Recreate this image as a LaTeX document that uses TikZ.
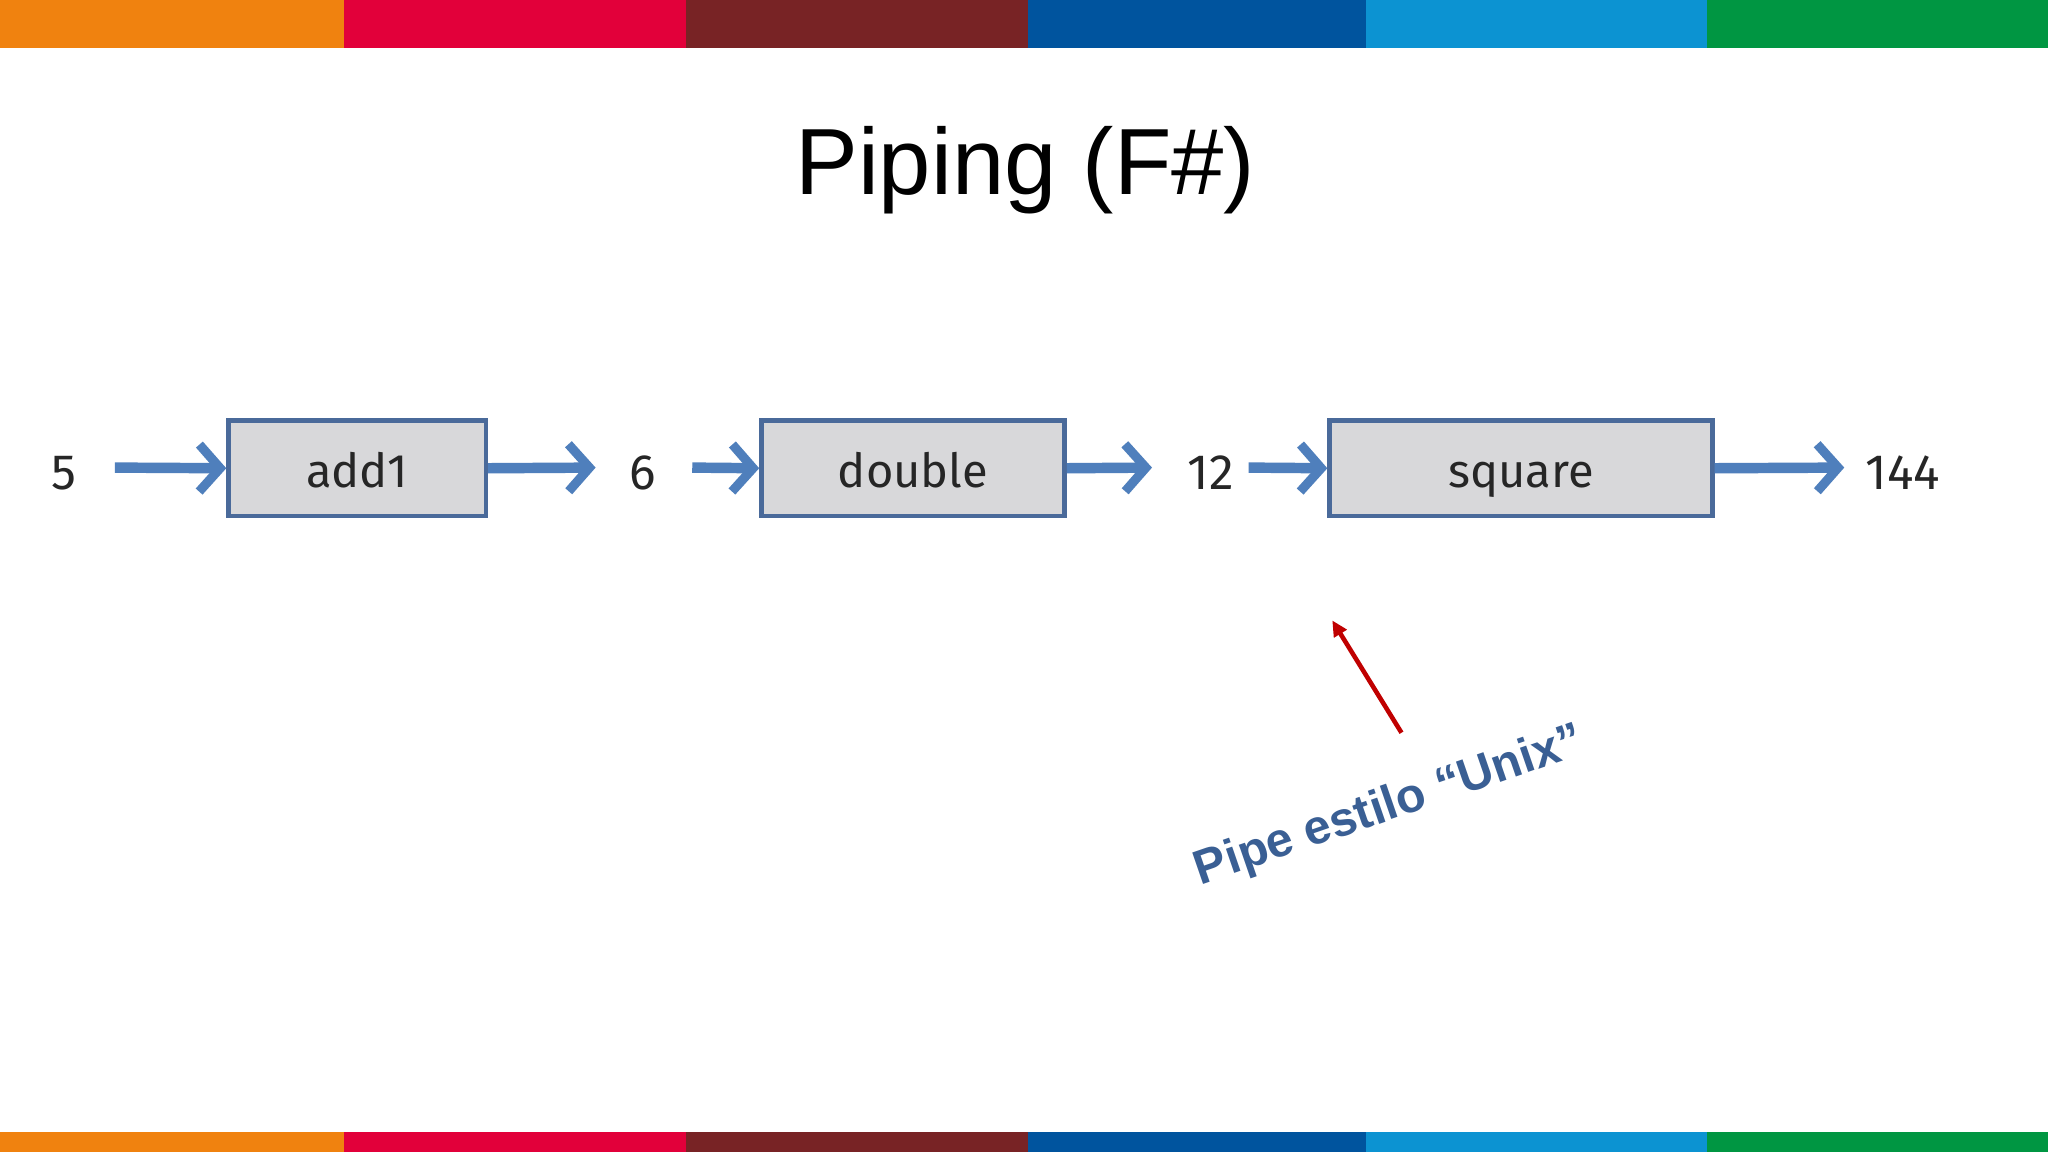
\documentclass[tikz,border=0pt]{standalone}
\usepackage{fontspec}
\setmainfont{Liberation Sans}
\newfontfamily\gill{Fira Sans}
\usetikzlibrary{arrows.meta}
\definecolor{c1}{HTML}{F0820F}
\definecolor{c2}{HTML}{E2003A}
\definecolor{c3}{HTML}{782325}
\definecolor{c4}{HTML}{00549E}
\definecolor{c5}{HTML}{0C93D2}
\definecolor{c6}{HTML}{009642}
\definecolor{pblue}{HTML}{4F7FBC}
\definecolor{bord}{HTML}{4A6A9A}
\definecolor{boxf}{HTML}{D8D8DA}
\definecolor{lab}{HTML}{3A5F94}
\definecolor{red2}{HTML}{C00000}
\tikzset{
 fbox/.style={draw=bord,line width=3.5pt,fill=boxf,minimum height=73pt,text height=30pt,text depth=0pt,font=\gill\fontsize{36}{40}\selectfont,text=black!85},
 val/.style={font=\gill\fontsize{38}{42}\selectfont,text=black!85},
 parr/.style={draw=pblue,line width=8pt,-{Straight Barb[length=16pt,width=36pt,line width=7pt]}}
}
\begin{document}
\begin{tikzpicture}[x=1pt,y=-1pt]
\useasboundingbox (0,0) rectangle (1568,882);
\fill[white] (0,0) rectangle (1568,882);
\foreach \a/\b/\c in {0/263/c1,263/525/c2,525/787/c3,787/1046/c4,1046/1307/c5,1307/1568/c6}{
 \fill[\c] (\a,0) rectangle (\b,37);
 \fill[\c] (\a,867) rectangle (\b,882);
}
\node (title) at (785,130) {\fontsize{72}{78}\selectfont Piping (F\#)};
\node[val] (v5) at (49,362) {5};
\node[fbox,minimum width=197pt] (add) at (273.5,358.5) {add1};
\node[val] (v6) at (492,362) {6};
\node[fbox,minimum width=232pt] (dbl) at (699,358.5) {double};
\node[val] (v12) at (927,362) {12};
\node[fbox,minimum width=293pt] (sq) at (1164.5,358.5) {square};
\node[val] (v144) at (1457,362) {144};
\coordinate (a0) at (88,358);
\coordinate (a1) at (456,358);
\coordinate (a2) at (530,358);
\coordinate (a3) at (882,358);
\coordinate (a4) at (956,358);
\coordinate (a5) at (1412,358);
\draw[parr] (a0) -- (add.west);
\draw[parr] (add.east) -- (a1);
\draw[parr] (a2) -- (dbl.west);
\draw[parr] (dbl.east) -- (a3);
\draw[parr] (a4) -- (sq.west);
\draw[parr] (sq.east) -- (a5);
\coordinate (r0) at (1073,561);
\coordinate (r1) at (1020,475);
\draw[red2,line width=3.5pt,-{Triangle[length=12pt,width=11pt]}] (r0) -- (r1);
\node[text=lab,font=\bfseries\fontsize{37}{40}\selectfont,rotate=19] (lbl) at (1064,618) {Pipe estilo “Unix”};
\end{tikzpicture}
\end{document}
